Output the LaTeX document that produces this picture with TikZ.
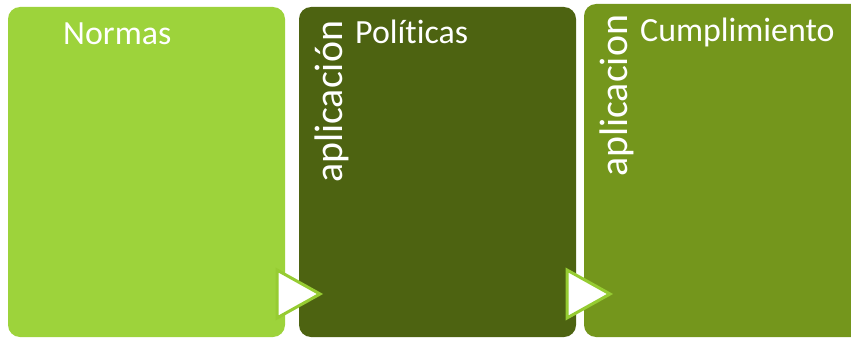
\documentclass[tikz,border=0pt]{standalone}
\usepackage{fontspec}
\setmainfont{Carlito}[Ligatures=NoCommon]
\usepackage{tikz}
\usetikzlibrary{calc}
\definecolor{verdeA}{RGB}{157,211,59}
\definecolor{verdeB}{RGB}{77,99,17}
\definecolor{verdeC}{RGB}{116,150,28}
\definecolor{borde}{RGB}{150,204,50}
\tikzset{
  caja/.style={rounded corners=12bp},
  titulo/.style={text=white,font=\fontsize{34}{34}\selectfont,inner sep=0pt,anchor=base west},
  lateral/.style={text=white,font=\fontsize{40}{40}\selectfont,inner sep=0pt,anchor=base west,rotate=90},
  flecha/.style={draw=borde,fill=white,line width=3bp,line join=miter}
}
\begin{document}
\begin{tikzpicture}[x=1bp,y=1bp]
\useasboundingbox (0,0) rectangle (851,338);
\clip (0,0) rectangle (851,338);
% cajas
\fill[caja,verdeA] (8,1) rectangle (285,331);
\fill[caja,verdeB] (299,1) rectangle (576,331);
\fill[caja,verdeC] (584,1) rectangle (866,334);
\coordinate (b1) at (285,1);
\coordinate (b2) at (576,1);
% textos
\node[titulo] (normas) at (63,294) {Normas};
\node[titulo] (politicas) at (355,295) {Políticas};
\node[titulo] (cumplimiento) at (640,297) {Cumplimiento};
\node[lateral] (apl1) at (342,155) {aplicación};
\node[lateral] (apl2) at (627,161) {aplicacion};
% flechas
\draw[flecha] ($(b1)+(-8,67)$) -- ($(b1)+(-8,19)$) -- ($(b1)+(35,43)$) -- cycle;
\draw[flecha] ($(b2)+(-9,67)$) -- ($(b2)+(-9,19)$) -- ($(b2)+(34,43)$) -- cycle;
\end{tikzpicture}
\end{document}
